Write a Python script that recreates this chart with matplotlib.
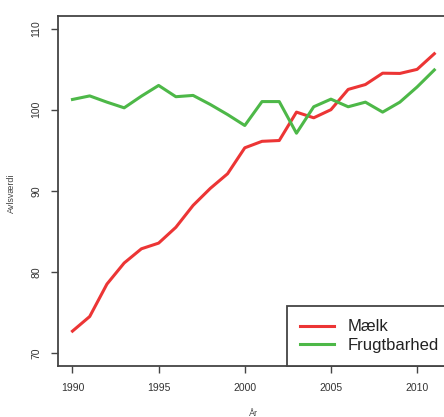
import matplotlib
matplotlib.use("Agg")
import matplotlib.pyplot as plt

plt.rcParams['font.family'] = ['Liberation Sans', 'DejaVu Sans']

years = list(range(1990, 2012))
maelk = [72.7, 74.5, 78.5, 81.1, 82.85, 83.55, 85.5, 88.2, 90.3, 92.1, 95.3, 96.1, 96.2,
         99.7, 99.0, 100.0, 102.5, 103.1, 104.5, 104.47, 104.97, 106.9]
frugtbarhed = [101.26, 101.7, 100.93, 100.23, 101.67, 102.99, 101.6, 101.76, 100.64, 99.4,
               98.05, 101.0, 101.0, 97.1, 100.36, 101.3, 100.36, 100.93, 99.7, 100.93, 102.8, 104.9]
xticks = [1990, 1995, 2000, 2005, 2010]
yticks = [70, 80, 90, 100, 110]

W, H = 444, 417
fig = plt.figure(figsize=(W / 100, H / 100), dpi=100)
ax = fig.add_axes([58 / W, (H - 366) / H, (448.8 - 58) / W, (366 - 15.6) / H])

ax.plot(years, maelk, color='#ec3535', lw=2.2, label='Mælk', solid_joinstyle='round')
ax.plot(years, frugtbarhed, color='#4db848', lw=2.2, label='Frugtbarhed', solid_joinstyle='round')

ax.set_xlim(1989.16, 2011.84)
ax.set_ylim(68.4, 111.6)
ax.set_xticks(xticks)
ax.set_yticks(yticks)
ax.set_xticklabels([str(t) for t in xticks], fontsize=7.5, color='#333333')
ax.set_yticklabels([str(t) for t in yticks], fontsize=7.5, color='#333333', rotation=90, va='center')
ax.tick_params(direction='out', length=5, width=1, color='#444444', pad=7)
for s in ax.spines.values():
    s.set_color('#444444')
    s.set_linewidth(1.3)
ax.spines['right'].set_visible(False)

fig.text(253 / W, 1 - 413 / H, 'År', fontsize=6.5, color='#444444', ha='center', va='center')
fig.text(11 / W, 1 - 193 / H, 'Avlsværdi', fontsize=6.5, color='#444444', ha='center', va='center', rotation=90)

leg = ax.legend(loc='lower left', bbox_to_anchor=(287 / W, 51 / H, 180 / W, 62 / H),
                bbox_transform=fig.transFigure, mode='expand',
                borderaxespad=0, fancybox=False, fontsize=12, handlelength=2.0,
                handletextpad=0.85, labelspacing=0.2, borderpad=0.8, framealpha=1)
leg.get_frame().set_edgecolor('#444444')
leg.get_frame().set_linewidth(1.3)
for t in leg.get_texts():
    t.set_color('#222222')

fig.savefig('out.png', dpi=100)
